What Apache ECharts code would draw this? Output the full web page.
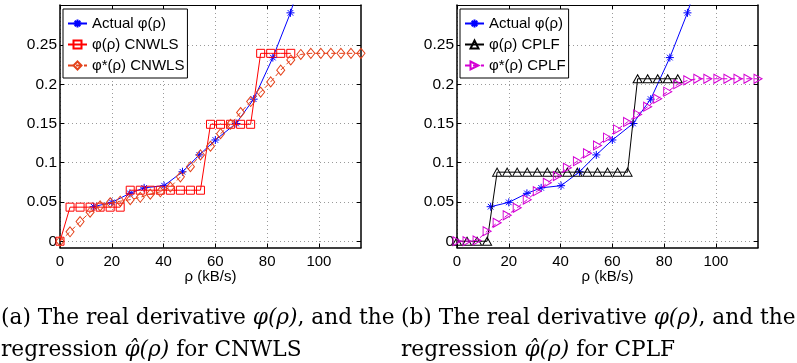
<!DOCTYPE html>
<html>
<head>
<meta charset="utf-8">
<script src="https://cdn.jsdelivr.net/npm/echarts@6/dist/echarts.min.js"></script>
<style>
  html, body { margin: 0; padding: 0; background: #fff; }
  #chart { width: 797px; height: 363px; }
</style>
</head>
<body>
<div id="chart"></div>
<script>
// Measured derivative (kB/s on x)
const rhoActual = [13, 20, 27, 32.5, 40.2, 47.3, 53.8, 60, 68, 74.8, 82.2, 89, 96];
const phiActual = [0.044, 0.0495, 0.061, 0.068, 0.0708, 0.0885, 0.110, 0.129, 0.150, 0.181, 0.234, 0.291, 0.365];

// Regression abscissae
const rhoGrid = [0, 3.875, 7.75, 11.625, 15.5, 19.375, 23.25, 27.125, 31, 34.875,
  38.75, 42.625, 46.5, 50.375, 54.25, 58.125, 62, 65.875, 69.75, 73.625,
  77.5, 81.375, 85.25, 89.125, 93, 96.875, 100.75, 104.625, 108.5, 112.375, 116.25];

// CNWLS: piecewise-constant estimate and smoothed estimate
const phiCnwls = [0, 0.0434, 0.0434, 0.0434, 0.0434, 0.0434, 0.0434,
  0.065, 0.065, 0.065, 0.065, 0.065, 0.065, 0.065, 0.065,
  0.149, 0.149, 0.149, 0.149, 0.149,
  0.2394, 0.2394, 0.2394, 0.2394];
const phiStarCnwls = [0, 0.012, 0.025, 0.037, 0.045, 0.049, 0.051, 0.053, 0.056, 0.060,
  0.063, 0.069, 0.082, 0.095, 0.110, 0.121, 0.137, 0.149, 0.164, 0.178,
  0.190, 0.203, 0.218, 0.231, 0.238, 0.2394, 0.2394, 0.2394, 0.2394, 0.2394, 0.2394];

// CPLF: piecewise-constant estimate and smoothed estimate
const phiCplf = [0, 0, 0, 0,
  0.088, 0.088, 0.088, 0.088, 0.088, 0.088, 0.088, 0.088, 0.088, 0.088, 0.088, 0.088, 0.088, 0.088,
  0.207, 0.207, 0.207, 0.207, 0.207];
const phiStarCplf = [0, 0, 0.001, 0.0128, 0.0235, 0.033, 0.0426, 0.053, 0.0638, 0.0745,
  0.083, 0.0936, 0.102, 0.112, 0.122, 0.132, 0.1425, 0.152, 0.1616, 0.1714,
  0.1816, 0.1906, 0.200, 0.205, 0.207, 0.207, 0.207, 0.207, 0.207, 0.207, 0.207];

// Axis ticks
const xTicks = [0, 20, 40, 60, 80, 100];
const yTicks = [0, 0.05, 0.1, 0.15, 0.2, 0.25];

const zip = (xs, ys) => ys.map((y, i) => [xs[i], y]);

const SANS = '"Liberation Sans", Arial, Helvetica, sans-serif';
const SERIF = '"DejaVu Serif", serif';
const X_MIN = 0, X_MAX = 116.25, Y_MIN = -0.008, Y_MAX = 0.301;

const ASTERISK = 'path://M5,0L5,10M0,5L10,5M1.5,1.5L8.5,8.5M8.5,1.5L1.5,8.5';
const TRI_RIGHT = 'path://M0,0L10,5L0,10Z';
const HOLLOW = 'rgba(0,0,0,0)';

function xAxes(g) {
  return [
    {
      type: 'value', gridIndex: g, position: 'bottom', min: X_MIN, max: X_MAX,
      name: 'ρ (kB/s)', nameLocation: 'middle', nameGap: 22, nameMoveOverlap: false,
      nameTextStyle: { fontFamily: SANS, fontSize: 15, color: '#000' },
      axisLine: { show: true, onZero: false, lineStyle: { color: '#000', width: 1.5 } },
      axisTick: { show: true, inside: true, length: 4, customValues: xTicks, lineStyle: { color: '#000' } },
      axisLabel: { customValues: xTicks, fontFamily: SANS, fontSize: 15, color: '#000', margin: 7 },
      splitLine: { show: true, lineStyle: { type: [1, 3], color: '#9a9a9a', width: 1 } }
    },
    {
      type: 'value', gridIndex: g, position: 'top', min: X_MIN, max: X_MAX,
      axisLine: { show: true, onZero: false, lineStyle: { color: '#000', width: 1 } },
      axisTick: { show: true, inside: true, length: 4, customValues: xTicks, lineStyle: { color: '#000' } },
      axisLabel: { show: false },
      splitLine: { show: false }
    }
  ];
}

function yAxes(g) {
  return [
    {
      type: 'value', gridIndex: g, position: 'left', min: Y_MIN, max: Y_MAX,
      axisLine: { show: true, onZero: false, lineStyle: { color: '#000', width: 1.5 } },
      axisTick: { show: true, inside: true, length: 4, customValues: yTicks, lineStyle: { color: '#000' } },
      axisLabel: { customValues: yTicks, fontFamily: SANS, fontSize: 15.5, color: '#000', margin: 3 },
      splitLine: { show: true, lineStyle: { type: [1, 3], color: '#9a9a9a', width: 1 } }
    },
    {
      type: 'value', gridIndex: g, position: 'right', min: Y_MIN, max: Y_MAX,
      axisLine: { show: true, onZero: false, lineStyle: { color: '#000', width: 1.5 } },
      axisTick: { show: true, inside: true, length: 4, customValues: yTicks, lineStyle: { color: '#000' } },
      axisLabel: { show: false },
      splitLine: { show: false }
    }
  ];
}

function lineSeries(name, g, data, color, symbol, size, dashed, z) {
  return {
    type: 'line', name: name, xAxisIndex: g * 2, yAxisIndex: g * 2,
    data: data, symbol: symbol, symbolSize: size, showSymbol: true, clip: true,
    z: z, animation: false, silent: true,
    lineStyle: { color: color, width: 1, type: dashed ? [5, 3] : 'solid' },
    itemStyle: { color: symbol === ASTERISK ? color : HOLLOW, borderColor: color, borderWidth: 1 }
  };
}

const BLUE = '#0000ff', RED = '#ff0000', ORANGE = '#e4421a', BLACK = '#000000', MAGENTA = '#d400d4';

const legendBase = {
  orient: 'vertical', top: 9, padding: [7, 3, 5, 4], itemGap: 6, itemWidth: 19, itemHeight: 10,
  backgroundColor: '#fff', borderColor: '#000', borderWidth: 1, borderRadius: 0,
  selectedMode: false,
  textStyle: { fontFamily: SANS, fontSize: 15, color: '#000' }
};

const CAP_SIZE = 21.7, CAP_LH = 32;
const captionRich = {
  i: { fontFamily: SERIF, fontStyle: 'italic', fontSize: CAP_SIZE, color: '#000', lineHeight: CAP_LH }
};
const captionStyle = {
  fontFamily: SERIF, fontWeight: 'normal', fontSize: CAP_SIZE, color: '#000', lineHeight: CAP_LH, rich: captionRich
};

const option = {
  backgroundColor: '#fff',
  animation: false,
  title: [
    {
      left: 1, top: 302, padding: 0,
      text: '(a) The real derivative {i|φ(ρ)}, and the\nregression {i|φ̂(ρ)} for CNWLS',
      textStyle: captionStyle
    },
    {
      left: 401, top: 302, padding: 0,
      text: '(b) The real derivative {i|φ(ρ)}, and the\nregression {i|φ̂(ρ)} for CPLF',
      textStyle: captionStyle
    }
  ],
  legend: [
    Object.assign({}, legendBase, { left: 63, data: ['Actual φ(ρ)', 'φ(ρ) CNWLS', 'φ*(ρ) CNWLS'] }),
    Object.assign({}, legendBase, { left: 460, data: ['Actual φ(ρ)', 'φ(ρ) CPLF', 'φ*(ρ) CPLF'] })
  ],
  grid: [
    { left: 60, top: 5, width: 301, height: 242.5, outerBoundsMode: 'none' },
    { left: 457, top: 5, width: 301, height: 242.5, outerBoundsMode: 'none' }
  ],
  xAxis: xAxes(0).concat(xAxes(1)),
  yAxis: yAxes(0).concat(yAxes(1)),
  series: [
    lineSeries('Actual φ(ρ)', 0, zip(rhoActual, phiActual), BLUE, ASTERISK, 8, false, 2),
    lineSeries('φ(ρ) CNWLS', 0, zip(rhoGrid, phiCnwls), RED, 'rect', 8, false, 3),
    lineSeries('φ*(ρ) CNWLS', 0, zip(rhoGrid, phiStarCnwls), ORANGE, 'diamond', [8, 10], true, 4),
    lineSeries('Actual φ(ρ)', 1, zip(rhoActual, phiActual), BLUE, ASTERISK, 8, false, 2),
    lineSeries('φ(ρ) CPLF', 1, zip(rhoGrid, phiCplf), BLACK, 'triangle', [9, 8], false, 3),
    lineSeries('φ*(ρ) CPLF', 1, zip(rhoGrid, phiStarCplf), MAGENTA, TRI_RIGHT, [8, 9], true, 4)
  ]
};

const chart = echarts.init(document.getElementById('chart'), null, { renderer: 'canvas' });
chart.setOption(option);
</script>
</body>
</html>
